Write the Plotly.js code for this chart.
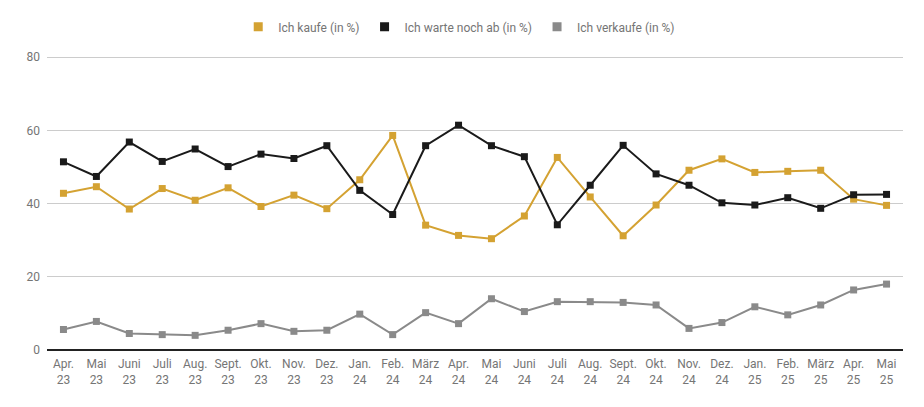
<!DOCTYPE html>
<html>
<head>
<meta charset="utf-8">
<script src="https://cdn.plot.ly/plotly-3.0.1.min.js"></script>
<style>
  html, body { margin: 0; padding: 0; background: #fff; }
  #chart { width: 924px; height: 407px; }
</style>
</head>
<body>
<div id="chart"></div>
<script>
const months = [
  'Apr.<br>23', 'Mai<br>23', 'Juni<br>23', 'Juli<br>23', 'Aug.<br>23', 'Sept.<br>23',
  'Okt.<br>23', 'Nov.<br>23', 'Dez.<br>23', 'Jan.<br>24', 'Feb.<br>24', 'März<br>24',
  'Apr.<br>24', 'Mai<br>24', 'Juni<br>24', 'Juli<br>24', 'Aug.<br>24', 'Sept.<br>24',
  'Okt.<br>24', 'Nov.<br>24', 'Dez.<br>24', 'Jan.<br>25', 'Feb.<br>25', 'März<br>25',
  'Apr.<br>25', 'Mai<br>25'
];

const kaufe = [
  42.8, 44.6, 38.5, 44.1, 40.9, 44.3, 39.2, 42.3, 38.6, 46.5, 58.6, 34.1,
  31.3, 30.4, 36.6, 52.6, 41.8, 31.2, 39.6, 49.1, 52.2, 48.5, 48.8, 49.1,
  41.2, 39.5
];

const warte = [
  51.4, 47.4, 56.8, 51.5, 54.9, 50.1, 53.5, 52.3, 55.8, 43.6, 37.0, 55.8,
  61.4, 55.8, 52.8, 34.2, 45.0, 55.9, 48.1, 45.0, 40.2, 39.6, 41.6, 38.7,
  42.4, 42.5
];

const verkaufe = [
  5.6, 7.8, 4.5, 4.2, 4.0, 5.4, 7.2, 5.1, 5.4, 9.8, 4.2, 10.2,
  7.2, 14.0, 10.5, 13.2, 13.2, 13.0, 12.3, 5.9, 7.5, 11.8, 9.6, 12.3,
  16.4, 18.0
];

const names = ['Ich kaufe (in %)', 'Ich warte noch ab (in %)', 'Ich verkaufe (in %)'];
const colors = ['#d4a232', '#1a1a1a', '#8a8a8a'];
const series = [kaufe, warte, verkaufe];

const traces = [];
series.forEach((vals, i) => {
  traces.push({
    x: months,
    y: vals,
    type: 'scatter',
    mode: 'lines+markers',
    name: names[i],
    legendgroup: 'g' + i,
    showlegend: false,
    line: { color: colors[i], width: 2 },
    marker: { color: colors[i], symbol: 'square', size: 7 },
    hoverinfo: 'x+y'
  });
});
// legend entries showing only the square swatch
series.forEach((vals, i) => {
  traces.push({
    x: [null],
    y: [null],
    type: 'scatter',
    mode: 'markers',
    name: names[i],
    legendgroup: 'g' + i,
    marker: { color: colors[i], symbol: 'square', size: 9 }
  });
});

const layout = {
  width: 924,
  height: 407,
  margin: { l: 47, r: 21, t: 56, b: 57 },
  paper_bgcolor: '#fff',
  plot_bgcolor: '#fff',
  font: { family: 'Roboto, Arial, sans-serif', size: 12, color: '#757575' },
  showlegend: true,
  legend: {
    orientation: 'h',
    x: 0.497,
    xref: 'container',
    xanchor: 'center',
    y: 0.934,
    yanchor: 'middle',
    yref: 'container',
    font: { size: 12, color: '#757575' },
    itemwidth: 30,
    tracegroupgap: 0
  },
  xaxis: {
    type: 'category',
    range: [-0.5, 25.5],
    showgrid: false,
    zeroline: false,
    showline: false,
    ticks: '',
    ticklabelstandoff: 5,
    tickfont: { size: 12, color: '#757575' },
    tickangle: 0,
    fixedrange: true
  },
  yaxis: {
    range: [0, 80.3],
    tickvals: [0, 20, 40, 60, 80],
    showgrid: true,
    gridcolor: '#cccccc',
    gridwidth: 1,
    zeroline: true,
    zerolinecolor: '#222222',
    zerolinewidth: 2,
    showline: false,
    ticks: '',
    ticklabelstandoff: 6,
    tickfont: { size: 12, color: '#757575' },
    fixedrange: true
  }
};

Plotly.newPlot('chart', traces, layout, { displayModeBar: false, staticPlot: true });
</script>
</body>
</html>
